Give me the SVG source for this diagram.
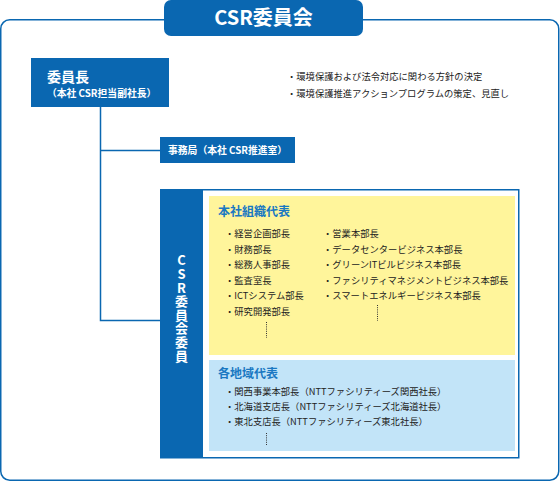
<svg xmlns="http://www.w3.org/2000/svg" width="560" height="482" viewBox="0 0 560 482">
<style>
.jp{font-family:"Noto Sans CJK JP","Noto Sans",sans-serif}
.w{fill:#fff;font-weight:bold}
.item{font-size:9.3px;fill:#222}
.head{font-size:12px;font-weight:bold;fill:#1a78c2}
.blue{fill:#0a67b1}
.ln{stroke:#0a67b1;stroke-width:1.5;fill:none}
.dots{stroke:#333;stroke-width:1;stroke-dasharray:1 1.2}
.vert{writing-mode:vertical-rl;text-orientation:upright;letter-spacing:0.6px}
</style>
<rect x="0.75" y="19.75" width="558" height="460.5" rx="9" class="ln"/>
<g id="title">
<rect x="164" y="0" width="199" height="36" rx="7" class="blue"/>
<text x="263.5" y="25" text-anchor="middle" class="jp w" font-size="20">CSR委員会</text>
</g>
<g id="connectors">
<path d="M100.5 107 V320.5 H160" class="ln"/>
<path d="M100.5 150.5 H160" class="ln"/>
</g>
<g id="chair">
<rect x="31" y="58" width="138" height="49" class="blue"/>
<text x="47" y="82" class="jp w" font-size="14">委員長</text>
<text x="47" y="97" class="jp w" font-size="9.8">（本社 CSR担当副社長）</text>
</g>
<g id="duties">
<text x="287" y="80" class="jp item">・環境保護および法令対応に関わる方針の決定</text>
<text x="287" y="97" class="jp item">・環境保護推進アクションプログラムの策定、見直し</text>
</g>
<g id="office">
<rect x="160" y="137" width="135" height="26" class="blue"/>
<text x="168" y="154" class="jp w" font-size="9.8">事務局（本社 CSR推進室）</text>
</g>
<g id="members">
<rect x="160.75" y="189.75" width="358" height="268" class="ln"/>
<rect x="160" y="189" width="43" height="269" class="blue"/>
<text x="181.5" y="254" class="jp w vert" font-size="13">CSR委員会委員</text>
</g>
<g id="hq">
<rect x="209" y="196" width="306" height="159" fill="#fff59b"/>
<text x="218" y="216" class="jp head">本社組織代表</text>
<text class="jp item"><tspan x="225" y="237">・経営企画部長</tspan><tspan x="225" y="252.5">・財務部長</tspan><tspan x="225" y="268">・総務人事部長</tspan><tspan x="225" y="283.5">・監査室長</tspan><tspan x="225" y="299">・ICTシステム部長</tspan><tspan x="225" y="314.5">・研究開発部長</tspan></text>
<text class="jp item"><tspan x="323" y="237">・営業本部長</tspan><tspan x="323" y="252.5">・データセンタービジネス本部長</tspan><tspan x="323" y="268">・グリーンITビルビジネス本部長</tspan><tspan x="323" y="283.5">・ファシリティマネジメントビジネス本部長</tspan><tspan x="323" y="299">・スマートエネルギービジネス本部長</tspan></text>
<path d="M266.5 322 V338" class="dots"/>
<path d="M377.5 305 V321" class="dots"/>
</g>
<g id="regional">
<rect x="209" y="360" width="306" height="91" fill="#c2e4f8"/>
<text x="218" y="378" class="jp head">各地域代表</text>
<text class="jp item"><tspan x="225" y="395">・関西事業本部長（NTTファシリティーズ関西社長）</tspan><tspan x="225" y="410">・北海道支店長（NTTファシリティーズ北海道社長）</tspan><tspan x="225" y="425">・東北支店長（NTTファシリティーズ東北社長）</tspan></text>
<path d="M266.5 433 V446" class="dots"/>
</g>
</svg>
